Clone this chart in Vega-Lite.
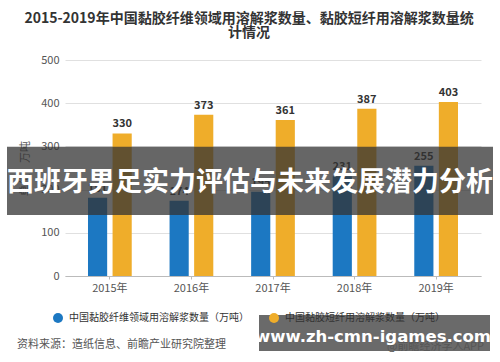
{
  "$schema": "https://vega.github.io/schema/vega-lite/v6.json",
  "width": 416,
  "height": 216,
  "autosize": "none",
  "padding": {"left": 65, "top": 60, "right": 19, "bottom": 86},
  "background": "white",
  "config": {
    "font": "Noto Sans CJK SC",
    "view": {"stroke": null}
  },
  "title": {
    "text": ["2015-2019年中国黏胶纤维领域用溶解浆数量、黏胶短纤用溶解浆数量统", "计情况"],
    "fontSize": 14,
    "fontWeight": "bold",
    "color": "#333333",
    "lineHeight": 14,
    "anchor": "middle",
    "dx": -24,
    "offset": 14
  },
  "layer": [
    {
      "data": {"values": [
        {"year": "2015年", "series": "中国黏胶纤维领域用溶解浆数量（万吨）", "value": 181},
        {"year": "2015年", "series": "中国黏胶短纤用溶解浆数量（万吨）", "value": 330},
        {"year": "2016年", "series": "中国黏胶纤维领域用溶解浆数量（万吨）", "value": 174},
        {"year": "2016年", "series": "中国黏胶短纤用溶解浆数量（万吨）", "value": 373},
        {"year": "2017年", "series": "中国黏胶纤维领域用溶解浆数量（万吨）", "value": 195},
        {"year": "2017年", "series": "中国黏胶短纤用溶解浆数量（万吨）", "value": 361},
        {"year": "2018年", "series": "中国黏胶纤维领域用溶解浆数量（万吨）", "value": 231},
        {"year": "2018年", "series": "中国黏胶短纤用溶解浆数量（万吨）", "value": 387},
        {"year": "2019年", "series": "中国黏胶纤维领域用溶解浆数量（万吨）", "value": 255},
        {"year": "2019年", "series": "中国黏胶短纤用溶解浆数量（万吨）", "value": 403}
      ]},
      "layer": [
        {
          "mark": {"type": "bar"},
          "encoding": {
            "x": {"field": "year", "type": "nominal", "sort": null,
              "scale": {"paddingInner": 0, "paddingOuter": 0.05},
              "axis": {"title": null, "labelAngle": 0, "labelFontSize": 11, "labelColor": "#555555",
                "domainColor": "#bbbbbb", "tickColor": "#bbbbbb", "tickSize": 3, "labelPadding": 3, "grid": false}},
            "xOffset": {"field": "series", "type": "nominal",
              "sort": ["中国黏胶纤维领域用溶解浆数量（万吨）", "中国黏胶短纤用溶解浆数量（万吨）"],
              "scale": {"paddingInner": 0.22, "paddingOuter": 0.77}},
            "y": {"field": "value", "type": "quantitative",
              "scale": {"domain": [0, 500]},
              "axis": {"title": "单位：万吨", "values": [0, 100, 200, 300, 400, 500],
                "titleFontSize": 11, "titleFontWeight": "normal", "titleColor": "#555555", "titlePadding": 10,
                "labelFontSize": 11, "labelColor": "#555555", "labelPadding": 6,
                "ticks": false, "domain": false, "gridColor": "#e0e0e0"}},
            "color": {"field": "series", "type": "nominal",
              "sort": ["中国黏胶纤维领域用溶解浆数量（万吨）", "中国黏胶短纤用溶解浆数量（万吨）"],
              "scale": {"range": ["#1c78c2", "#efad2a"]},
              "legend": {"title": null, "orient": "none", "direction": "horizontal",
                "legendX": -13, "legendY": 252, "symbolType": "circle", "symbolSize": 100,
                "labelFontSize": 10, "labelColor": "#333333", "columnPadding": 19, "labelOffset": 5,
                "labelLimit": 300}}
          }
        },
        {
          "mark": {"type": "text", "baseline": "bottom", "dy": -4, "fontSize": 11, "fontWeight": "bold", "color": "#333333"},
          "encoding": {
            "x": {"field": "year", "type": "nominal", "sort": null},
            "xOffset": {"field": "series", "type": "nominal",
              "sort": ["中国黏胶纤维领域用溶解浆数量（万吨）", "中国黏胶短纤用溶解浆数量（万吨）"]},
            "y": {"field": "value", "type": "quantitative"},
            "text": {"field": "value", "type": "quantitative"}
          }
        }
      ]
    },
    {
      "data": {"values": [{"banner": "西班牙男足实力评估与未来发展潜力分析"}]},
      "layer": [
        {
          "mark": {"type": "rect", "color": "#333333", "opacity": 0.75},
          "encoding": {
            "x": {"value": -58},
            "x2": {"value": 428},
            "y": {"datum": 299},
            "y2": {"datum": 141}
          }
        },
        {
          "mark": {"type": "text", "fontSize": 27, "fontWeight": "bold", "color": "white", "align": "center", "baseline": "middle"},
          "encoding": {
            "x": {"value": 185},
            "y": {"datum": 216},
            "text": {"field": "banner", "type": "nominal"}
          }
        }
      ]
    },
    {
      "data": {"values": [{"src": "资料来源：造纸信息、前瞻产业研究院整理", "app": "@前瞻经济学人APP", "wm": "www.zh-cmn-igames.com"}]},
      "layer": [
        {
          "mark": {"type": "text", "fontSize": 11, "color": "#555555", "align": "left", "baseline": "middle"},
          "encoding": {"x": {"value": -48}, "y": {"value": 285}, "text": {"field": "src", "type": "nominal"}}
        },
        {
          "mark": {"type": "text", "fontSize": 11, "color": "#555555", "align": "left", "baseline": "middle"},
          "encoding": {"x": {"value": 322}, "y": {"value": 287}, "text": {"field": "app", "type": "nominal"}}
        },
        {
          "mark": {"type": "rect", "color": "#555555", "opacity": 0.88},
          "encoding": {"x": {"value": 194}, "x2": {"value": 425}, "y": {"value": 255}, "y2": {"value": 291}}
        },
        {
          "mark": {"type": "text", "fontSize": 16.5, "fontWeight": "bold", "color": "white", "align": "center", "baseline": "middle", "font": "DejaVu Sans"},
          "encoding": {"x": {"value": 308}, "y": {"value": 277}, "text": {"field": "wm", "type": "nominal"}}
        }
      ]
    }
  ]
}
